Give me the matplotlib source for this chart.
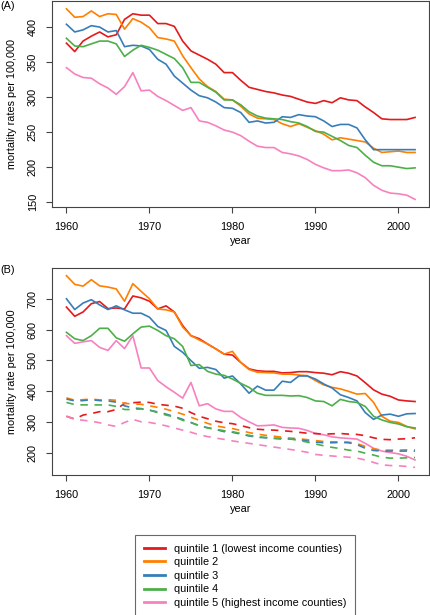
import numpy as np
import matplotlib
matplotlib.use("Agg")
import matplotlib.pyplot as plt
from matplotlib.lines import Line2D

plt.rcParams['font.family'] = ['Liberation Sans', 'DejaVu Sans']

years = np.arange(1960, 2003)

# panel A: mortality rates per 100,000
a_q1 = [377, 365, 380, 387, 393, 386, 389, 411, 419, 417, 417, 405, 405, 401, 380, 366, 360, 354, 347, 335,
        335, 324, 314, 311, 308, 306, 303, 301, 297, 293, 291, 295, 292, 299, 296, 295, 286, 278, 269, 268,
        268, 268, 271]
a_q2 = [426, 414, 415, 423, 415, 419, 418, 397, 412, 407, 399, 385, 383, 380, 359, 342, 326, 315, 308, 297,
        296, 287, 276, 270, 269, 268, 262, 258, 262, 257, 252, 247, 239, 242, 240, 238, 236, 227, 221, 222,
        223, 221, 221]
a_q3 = [404, 393, 396, 402, 400, 393, 395, 372, 374, 373, 368, 354, 347, 330, 320, 310, 302, 299, 293, 285,
        284, 278, 264, 266, 263, 264, 272, 271, 275, 273, 272, 266, 258, 261, 261, 256, 239, 225, 225, 225,
        225, 225, 225]
a_q4 = [384, 373, 372, 376, 380, 380, 376, 358, 367, 374, 371, 367, 361, 355, 342, 321, 321, 314, 307, 296,
        296, 289, 279, 273, 270, 269, 268, 265, 263, 258, 251, 250, 244, 238, 231, 228, 217, 207, 202, 202,
        200, 198, 199]
a_q5 = [342, 333, 328, 327, 319, 313, 304, 315, 335, 309, 310, 301, 295, 288, 281, 285, 266, 264, 259, 253,
        250, 245, 237, 230, 228, 228, 221, 219, 216, 211, 204, 199, 195, 195, 196, 192, 185, 174, 167, 163,
        162, 160, 154]

# panel B: solid lines
b_q1 = [673, 643, 657, 684, 691, 668, 670, 667, 709, 703, 692, 667, 677, 657, 613, 580, 570, 553, 537, 520,
        517, 493, 472, 466, 464, 464, 459, 460, 463, 463, 460, 458, 453, 463, 458, 449, 427, 404, 390, 383,
        371, 368, 366]
b_q2 = [775, 747, 741, 762, 742, 738, 732, 692, 749, 724, 700, 667, 664, 657, 608, 580, 566, 553, 537, 520,
        529, 493, 470, 461, 460, 459, 455, 455, 452, 450, 434, 420, 412, 407, 399, 390, 392, 363, 318, 302,
        298, 285, 277]
b_q3 = [700, 665, 686, 697, 680, 665, 677, 664, 653, 653, 640, 610, 597, 545, 526, 499, 474, 477, 470, 442,
        449, 423, 393, 416, 403, 403, 432, 428, 449, 449, 439, 423, 410, 388, 379, 368, 330, 308, 322, 325,
        318, 326, 327]
b_q4 = [591, 570, 564, 580, 604, 604, 573, 562, 586, 608, 611, 597, 580, 570, 545, 483, 486, 464, 455, 451,
        439, 425, 412, 393, 386, 386, 386, 384, 385, 379, 368, 366, 352, 373, 366, 363, 350, 318, 306, 298,
        293, 284, 280]
b_q5 = [580, 555, 560, 564, 542, 532, 564, 538, 580, 475, 475, 434, 414, 396, 377, 428, 352, 359, 342, 334,
        334, 314, 300, 287, 288, 290, 282, 280, 279, 272, 262, 258, 251, 248, 246, 244, 230, 214, 205, 200,
        196, 188, 176]

# panel B: dashed lines
d_q1 = [318, 309, 322, 327, 333, 333, 340, 360, 362, 364, 363, 357, 354, 351, 344, 330, 318, 310, 302, 297,
        294, 288, 281, 276, 274, 273, 271, 269, 266, 263, 262, 260, 261, 262, 260, 259, 255, 248, 243, 242,
        244, 245, 248]
d_q2 = [378, 370, 372, 374, 371, 372, 370, 360, 358, 357, 352, 347, 341, 333, 325, 315, 305, 295, 287, 282,
        278, 272, 265, 260, 256, 253, 250, 247, 245, 242, 239, 236, 235, 235, 234, 229, 220, 212, 208, 208,
        208, 209, 209]
d_q3 = [374, 368, 369, 372, 369, 368, 364, 352, 345, 343, 338, 332, 325, 317, 308, 298, 287, 281, 275, 268,
        266, 260, 254, 250, 248, 246, 244, 244, 242, 238, 234, 232, 232, 233, 232, 226, 214, 207, 205, 205,
        205, 205, 205]
d_q4 = [363, 356, 355, 355, 355, 355, 350, 340, 340, 342, 338, 330, 322, 316, 305, 297, 288, 280, 276, 271,
        268, 262, 256, 252, 249, 247, 246, 244, 240, 234, 228, 222, 217, 213, 208, 205, 198, 192, 185, 182,
        182, 183, 184]
d_q5 = [318, 308, 305, 302, 297, 290, 285, 298, 308, 300, 298, 293, 287, 280, 273, 266, 258, 252, 247, 243,
        238, 234, 230, 226, 222, 218, 214, 210, 206, 201, 194, 191, 189, 187, 185, 182, 176, 168, 160, 158,
        157, 155, 152]

labels = ["quintile 1 (lowest income counties)", "quintile 2", "quintile 3", "quintile 4",
          "quintile 5 (highest income counties)"]
colors = ["#E41A1C", "#FF7F00", "#377EB8", "#4DAF4A", "#F781BF"]

FS = 7.8

fig = plt.figure(figsize=(4.31, 6.15), dpi=100)
axA = fig.add_axes([0.1218, 0.6634, 0.8736, 0.3346])
axB = fig.add_axes([0.1218, 0.2276, 0.8736, 0.3366])


def style(ax, ylabel):
    ax.margins(x=0.04, y=0.04)
    ax.set_xticks([1960, 1970, 1980, 1990, 2000])
    for s in ax.spines.values():
        s.set_color("#444444")
        s.set_linewidth(0.8)
    ax.tick_params(axis='both', labelsize=FS, length=4, color="#444444", width=0.8, pad=6.5)
    ax.tick_params(axis='y', labelrotation=90)
    for t in ax.get_yticklabels():
        t.set_va('center')
    ax.set_xlabel("year", fontsize=FS, labelpad=3)
    ax.set_ylabel(ylabel, fontsize=FS, labelpad=8)


for vals, c in zip([a_q1, a_q2, a_q3, a_q4, a_q5], colors):
    axA.plot(years, vals, color=c, lw=1.2)
axA.set_yticks([150, 200, 250, 300, 350, 400])
style(axA, "mortality rates per 100,000")

for vals, c in zip([b_q1, b_q2, b_q3, b_q4, b_q5], colors):
    axB.plot(years, vals, color=c, lw=1.2)
for vals, c in zip([d_q1, d_q2, d_q3, d_q4, d_q5], colors):
    axB.plot(years, vals, color=c, lw=1.2, ls=(0, (4.5, 4)))
axB.set_yticks([200, 300, 400, 500, 600, 700])
style(axB, "mortality rate per 100,000")

fig.text(0.0, 0.998, "(A)", fontsize=FS, va='top', ha='left')
fig.text(0.0, 1 - 265 / 615, "(B)", fontsize=FS, va='top', ha='left')

handles = [Line2D([0], [0], color=c, lw=2.0) for c in colors]
leg = fig.legend(handles, labels, loc='upper left', bbox_to_anchor=(0.313, 1 - 535 / 615),
                 fontsize=FS, frameon=True, fancybox=False, handlelength=2.0,
                 handletextpad=0.85, labelspacing=0.33, borderpad=0.8, borderaxespad=0)
leg.get_frame().set_edgecolor("#444444")
leg.get_frame().set_linewidth(0.8)

fig.savefig("out.png", dpi=100)
